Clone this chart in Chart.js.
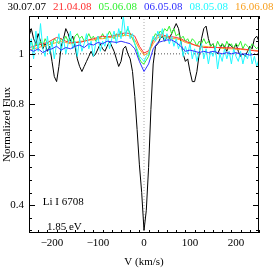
<!DOCTYPE html>
<html>
<head>
<meta charset="utf-8" />
<title>Li I 6708</title>
<script src="https://cdn.jsdelivr.net/npm/chart.js@4.4.1/dist/chart.umd.min.js"></script>
<style>
  html, body { margin: 0; padding: 0; background: #fff; }
  #wrap { width: 273px; height: 273px; }
</style>
</head>
<body>
<div id="wrap"><canvas id="myChart" width="273" height="273"></canvas></div>
<script>
// observation dates (labels across the top) and their colours
var DATES = ["30.07.07", "21.04.08", "05.06.08", "06.05.08", "08.05.08", "16.06.08"];
var COLORS = ["#000000", "#ff3030", "#30f030", "#3030ff", "#20f8ff", "#f8a020"];

// velocity grids (km/s)
var V5 = [-250,-245,-240,-235,-230,-225,-220,-215,-210,-205,-200,-195,-190,-185,-180,-175,-170,-165,-160,-155,
  -150,-145,-140,-135,-130,-125,-120,-115,-110,-105,-100,-95,-90,-85,-80,-75,-70,-65,-60,-55,
  -50,-45,-40,-35,-30,-25,-20,-15,-10,-5,0,5,10,15,20,25,30,35,40,45,
  50,55,60,65,70,75,80,85,90,95,100,105,110,115,120,125,130,135,140,145,
  150,155,160,165,170,175,180,185,190,195,200,205,210,215,220,225,230,235,240,245,250];
var V10 = [-250,-240,-230,-220,-210,-200,-190,-180,-170,-160,-150,-140,-130,-120,-110,-100,-90,-80,-70,-60,
  -50,-40,-30,-20,-10,0,10,20,30,40,50,60,70,80,90,100,110,120,130,140,
  150,160,170,180,190,200,210,220,230,240,250];

// normalized flux per date
var FLUX_300707 = [1.07,1.10,1.06,1.04,1.08,1.05,1.02,1.04,1.01,1.03,0.97,0.91,0.89,0.95,1.03,1.06,1.10,1.08,1.05,1.07,
  1.03,0.98,0.95,0.93,0.95,0.97,0.99,1.01,0.99,1.00,1.02,1.04,1.02,1.01,1.03,1.05,1.03,1.01,0.98,0.95,
  0.97,1.02,1.03,1.00,0.98,0.93,0.83,0.70,0.56,0.45,0.30,0.38,0.55,0.78,0.96,1.03,1.04,1.06,1.07,1.05,
  1.07,1.06,1.08,1.10,1.12,1.10,1.05,1.00,0.97,0.98,0.93,0.89,0.89,0.93,1.00,1.06,1.10,1.11,1.06,1.03,
  1.04,1.01,1.00,1.02,1.04,1.03,1.01,1.04,1.03,1.02,1.04,1.01,0.99,1.00,0.99,1.01,1.03,1.02,1.06,1.07,1.05];
var FLUX_210408 = [1.024,1.030,1.035,1.040,1.045,1.055,1.065,1.060,1.050,1.045,1.045,1.045,1.050,1.055,1.060,1.065,1.070,1.068,1.070,1.075,
  1.080,1.083,1.080,1.070,1.030,1.003,1.012,1.050,1.075,1.075,1.070,1.068,1.065,1.060,1.050,1.043,1.035,1.030,1.025,1.025,
  1.025,1.025,1.025,1.024,1.024,1.022,1.020,1.018,1.015,1.012,1.010];
var FLUX_050608 = [1.03,1.05,1.02,1.04,1.03,1.05,1.03,1.06,1.04,1.05,1.03,1.06,1.05,1.04,1.06,1.05,1.07,1.05,1.06,1.04,
  1.07,1.08,1.06,1.07,1.05,1.06,1.08,1.06,1.07,1.05,1.07,1.06,1.08,1.06,1.07,1.09,1.07,1.06,1.08,1.07,
  1.09,1.07,1.08,1.10,1.08,1.06,1.04,1.01,0.98,0.965,0.96,0.975,0.99,1.03,1.06,1.08,1.07,1.09,1.08,1.10,
  1.09,1.11,1.08,1.10,1.07,1.08,1.06,1.07,1.05,1.06,1.04,1.06,1.05,1.03,1.05,1.04,1.06,1.04,1.05,1.03,
  1.04,1.02,1.05,1.03,1.04,1.02,1.05,1.03,1.04,1.02,1.04,1.03,1.05,1.02,1.04,1.03,1.02,1.04,1.03,1.02,1.03];
var FLUX_060508 = [1.018,1.010,1.020,1.005,1.015,1.020,1.030,1.015,1.025,1.020,1.030,1.035,1.025,1.040,1.035,1.045,1.040,1.050,1.048,1.045,
  1.050,1.045,1.040,1.020,0.970,0.930,0.960,1.020,1.045,1.050,1.055,1.055,1.045,1.030,1.010,1.015,1.010,1.005,1.010,1.005,
  1.010,1.005,1.000,1.005,1.000,1.005,0.998,1.000,0.995,0.998,0.996];
var FLUX_080508 = [1.00,1.06,0.98,1.09,1.01,1.12,1.02,0.99,1.07,1.00,1.05,0.98,1.04,1.08,1.01,1.06,1.00,1.04,1.09,1.02,
  1.05,0.99,1.06,1.01,1.04,1.08,1.02,1.05,0.99,1.04,1.07,1.01,1.05,1.03,1.08,1.02,1.06,1.09,1.04,1.10,
  1.06,1.15,1.07,1.11,1.06,1.08,1.04,1.02,0.99,0.98,0.97,0.99,1.00,1.04,1.07,1.05,1.09,1.06,1.10,1.05,
  1.08,1.04,1.07,1.03,1.06,1.02,1.05,0.99,1.03,1.00,1.04,0.98,1.02,0.97,1.01,1.04,0.98,1.02,0.96,1.01,
  0.99,1.03,0.94,1.00,0.97,1.02,0.98,1.01,0.96,1.02,0.99,0.97,1.01,0.96,1.00,0.98,1.02,0.96,0.99,0.95,0.98];
var FLUX_160608 = [1.015,1.020,1.025,1.030,1.035,1.040,1.045,1.050,1.045,1.040,1.045,1.050,1.050,1.055,1.055,1.060,1.060,1.065,1.065,1.070,
  1.070,1.075,1.070,1.055,1.020,0.995,1.005,1.040,1.065,1.070,1.065,1.060,1.060,1.055,1.045,1.040,1.035,1.030,1.030,1.028,
  1.026,1.025,1.022,1.020,1.020,1.018,1.018,1.016,1.015,1.014,1.012];

// axis ticks
var X_TICKS = [-200, -100, 0, 100, 200];
var Y_TICKS = [0.4, 0.6, 0.8, 1];
var X_RANGE = [-250, 250];
var Y_RANGE = [0.29, 1.15];
var REF_FLUX = 1;
var REF_V = 0;

var FONT = { family: "'Liberation Serif', 'DejaVu Serif', serif", size: 11 };

function pts(xs, ys) {
  return xs.map(function(x, i) { return { x: x, y: ys[i] }; });
}

// frame, inward ticks, date labels and line annotation
var decor = {
  id: 'decor',
  afterDatasetsDraw: function(chart) {
    var ctx = chart.ctx, a = chart.chartArea;
    var xs = chart.scales.x, ys = chart.scales.y;
    ctx.save();
    ctx.strokeStyle = '#000';
    ctx.lineWidth = 1;
    ctx.strokeRect(a.left + 0.5, a.top + 0.5, a.right - a.left - 1, a.bottom - a.top - 1);
    ctx.beginPath();
    for (var v = X_RANGE[0]; v <= X_RANGE[1]; v += 20) {
      var px = Math.round(xs.getPixelForValue(v)) + 0.5;
      var len = (v % 100 === 0) ? 6 : 3;
      ctx.moveTo(px, a.bottom); ctx.lineTo(px, a.bottom - len);
      ctx.moveTo(px, a.top); ctx.lineTo(px, a.top + len);
    }
    for (var k = 6; k <= 23; k++) {
      var f = k * 0.05;
      if (f < Y_RANGE[0] || f > Y_RANGE[1]) continue;
      var py = Math.round(ys.getPixelForValue(f)) + 0.5;
      var l2 = (k % 4 === 0) ? 6 : 3;
      ctx.moveTo(a.left, py); ctx.lineTo(a.left + l2, py);
      ctx.moveTo(a.right, py); ctx.lineTo(a.right - l2, py);
    }
    ctx.stroke();

    ctx.font = FONT.size + 'px ' + FONT.family;
    ctx.textBaseline = 'middle';
    ctx.textAlign = 'center';
    var w = chart.width / DATES.length;
    DATES.forEach(function(d, i) {
      ctx.fillStyle = COLORS[i];
      ctx.fillText(d, 4 + (i + 0.5) * w, 7);
    });
    ctx.fillStyle = '#000';
    ctx.textAlign = 'left';
    ctx.fillText('Li I 6708', xs.getPixelForValue(-220), ys.getPixelForValue(0.413));
    ctx.fillText('1.85 eV', xs.getPixelForValue(-211), ys.getPixelForValue(0.315));
    ctx.restore();
  }
};

var series = [FLUX_300707, FLUX_210408, FLUX_050608, FLUX_060508, FLUX_080508, FLUX_160608];
var grids = [V5, V10, V5, V10, V5, V10];
var drawOrder = [7, 3, 5, 1, 2, 4];

var datasets = [
  { label: 'hline', data: [{ x: X_RANGE[0], y: REF_FLUX }, { x: X_RANGE[1], y: REF_FLUX }],
    borderColor: '#555', borderWidth: 1, borderDash: [1, 2], pointRadius: 0, order: 8 },
  { label: 'vline', data: [{ x: REF_V, y: Y_RANGE[0] }, { x: REF_V, y: Y_RANGE[1] }],
    borderColor: '#aaa', borderWidth: 1, borderDash: [1, 2], pointRadius: 0, order: 9 }
];
series.forEach(function(s, i) {
  datasets.push({
    label: DATES[i],
    data: pts(grids[i], s),
    borderColor: COLORS[i],
    borderWidth: 1,
    pointRadius: 0,
    tension: 0,
    fill: false,
    order: drawOrder[i]
  });
});

var ctx = document.getElementById('myChart');
var myChart = new Chart(ctx, {
  type: 'line',
  data: { datasets: datasets },
  plugins: [decor],
  options: {
    responsive: false,
    animation: false,
    layout: { padding: { top: 16, right: 14, left: 0, bottom: 0 } },
    plugins: { legend: { display: false }, tooltip: { enabled: false } },
    scales: {
      x: {
        type: 'linear', min: X_RANGE[0], max: X_RANGE[1],
        afterBuildTicks: function(s) { s.ticks = X_TICKS.map(function(v) { return { value: v }; }); },
        afterFit: function(s) { s.height = 40; },
        ticks: { font: FONT, color: '#000', padding: 4, maxRotation: 0, autoSkip: false,
          callback: function(v) { return v < 0 ? '\u2212' + (-v) : String(v); } },
        grid: { display: false, drawTicks: false },
        border: { display: false },
        title: { display: true, text: 'V (km/s)', font: FONT, color: '#000', padding: { top: 0, bottom: 4 } }
      },
      y: {
        type: 'linear', min: Y_RANGE[0], max: Y_RANGE[1],
        afterBuildTicks: function(s) { s.ticks = Y_TICKS.map(function(v) { return { value: v }; }); },
        afterFit: function(s) { s.width = 29; },
        ticks: { font: FONT, color: '#000', padding: 5, autoSkip: false,
          callback: function(v) { return v === 1 ? '1' : v.toFixed(1); } },
        grid: { display: false, drawTicks: false },
        border: { display: false },
        title: { display: true, text: 'Normalized Flux', font: FONT, color: '#000', padding: { top: 1, bottom: 0 } }
      }
    }
  }
});
</script>
</body>
</html>
